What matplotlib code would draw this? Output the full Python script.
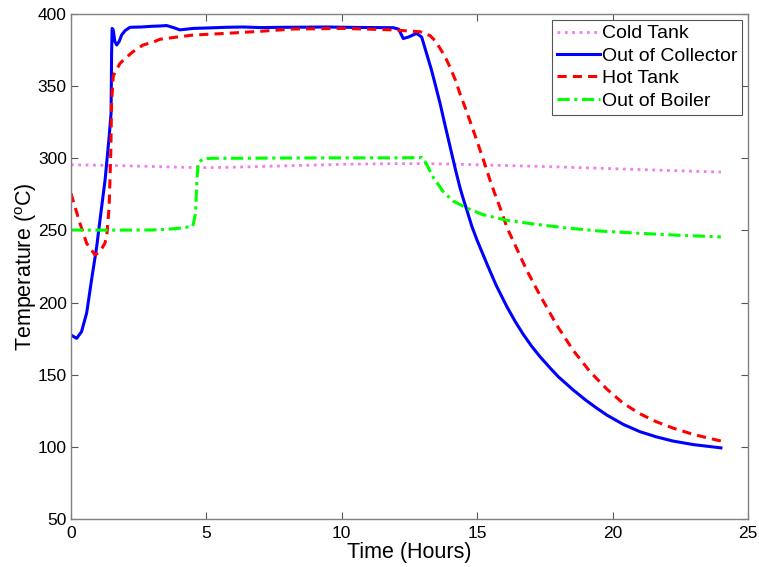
import matplotlib
matplotlib.use('Agg')
import matplotlib.pyplot as plt

plt.rcParams['font.family'] = ['Liberation Sans', 'DejaVu Sans']
plt.rcParams['mathtext.fontset'] = 'custom'
plt.rcParams['mathtext.rm'] = 'Liberation Sans'

# values (time in hours, temperature in C)
cold_t = [0, 1, 2, 3, 4, 5, 6, 7, 8, 9, 10, 11, 12, 13, 14, 15, 16, 17, 18, 19, 20, 21, 22, 23, 24]
cold_T = [295.5, 295.2, 294.8, 294.3, 293.8, 293.5, 293.8, 294.3, 294.8, 295.3, 295.8, 296.1, 296.3, 296.3,
          296.0, 295.5, 295.0, 294.5, 294.0, 293.4, 292.8, 292.2, 291.6, 291.0, 290.5]

coll_t = [0, 0.21, 0.39, 0.58, 0.76, 0.95, 1.07, 1.26, 1.41, 1.48, 1.49, 1.5, 1.52, 1.56, 1.62, 1.69, 1.78,
          1.87, 2.0, 2.18, 2.6, 3.0, 3.29, 3.53, 3.8, 4.02, 4.51, 5.0, 5.75, 6.36, 6.98, 8.0, 9.44, 10.5,
          11.9, 12.1, 12.27, 12.46, 12.76, 12.95, 13.13, 13.3, 13.44, 13.63, 13.8, 14.0, 14.2, 14.36,
          14.5, 14.62, 14.8, 15.0, 15.2, 15.4, 15.7, 16.1, 16.4, 16.7, 17.0, 17.32, 17.7, 18.0, 18.54,
          19.0, 19.4, 19.79, 20.4, 21.01, 21.6, 22.23, 23.0, 24.0]
coll_T = [177.5, 175.2, 179.8, 192.8, 215.7, 238.7, 257, 285, 315, 331, 350, 372, 390, 389, 381, 378.5,
          381, 385.4, 388.5, 390.8, 391, 391.5, 391.7, 392, 390.5, 389, 390, 390.3, 390.8, 391, 390.6, 390.8,
          391, 390.7, 390.5, 389.5, 383, 384, 386.6, 384, 372.7, 362, 352, 338, 324, 308, 292, 280,
          271, 264, 253, 243, 234, 225, 212, 197, 187, 178, 170, 162.5, 154.5, 148.5, 139.5,
          132.5, 127, 122, 115.5, 110.5, 107, 104, 101.5, 99.3]

hot_t = [0, 0.33, 0.58, 0.89, 1.07, 1.25, 1.32, 1.41, 1.47, 1.5, 1.56, 1.81, 2.05, 2.29, 2.66, 3.03, 3.29,
         3.9, 4.51, 5.13, 5.75, 6.98, 8.2, 10.05, 11.9, 12.63, 12.9, 13.26, 13.45, 13.6, 13.8, 14.0, 14.2,
         14.36, 14.55, 14.73, 14.9, 15.1, 15.3, 15.47, 15.65, 15.84, 16.1, 16.47, 16.84, 17.32, 17.95,
         18.54, 19.17, 19.79, 20.38, 21.0, 21.6, 22.23, 23.0, 24.0]
hot_T = [275.7, 255, 241, 233, 235.3, 241, 245.7, 266.5, 303.7, 338, 357, 365.8, 370, 373.9, 378.5, 380.5,
         382.5, 384, 385.4, 386, 386.6, 388, 389.6, 390, 389, 388, 387.7, 385, 381.5, 377, 371, 363, 354,
         345, 335.5, 326, 317, 306, 295, 285, 275.5, 266, 252, 237, 222, 205, 184,
         167, 152, 140, 130.4, 123, 117.5, 113, 108.5, 104]

boil_t = [0, 1, 2, 3, 3.3, 3.9, 4.3, 4.5, 4.6, 4.65, 4.7, 4.87, 5.2, 6, 8, 10, 12, 12.96, 13.1, 13.37,
          13.74, 14.1, 14.62, 15.2, 16.1, 17.06, 18.3, 19.5, 21.0, 22.5, 24.0]
boil_T = [250.3, 250.2, 250.2, 250.3, 250.5, 251.3, 252.3, 253, 262, 285, 297, 299.5, 300, 300, 300.2,
          300.3, 300.3, 300.5, 297, 287, 277, 270.5, 265.5, 261, 257, 254.5, 251.7, 249.6, 248, 246.6, 245.5]

fig = plt.figure(figsize=(7.59, 5.67), dpi=100)
ax = fig.add_axes([0.0935, 0.0847, 0.892, 0.8906])

ax.plot(cold_t, cold_T, ':', color='#f07cf0', lw=2, label='Cold Tank')
ax.plot(coll_t, coll_T, '-', color='#0000ff', lw=2.2, label='Out of Collector')
ax.plot(hot_t, hot_T, '--', color='#ff0000', lw=2.2, dashes=(3, 2), label='Hot Tank')
ax.plot(boil_t, boil_T, '-.', color='#00ff00', lw=2.2, dashes=(4, 1.5, 1, 1.5), label='Out of Boiler')

ax.set_xlim(0, 25)
ax.set_ylim(50, 400)
ax.set_xticks([0, 5, 10, 15, 20, 25])
ax.set_yticks([50, 100, 150, 200, 250, 300, 350, 400])
ax.tick_params(direction='in', length=5, width=0.8, top=True, right=True,
               labelsize=12.5, color='#555555')
ax.tick_params(axis='x', pad=5)
ax.tick_params(axis='y', pad=3)
for sp in ax.spines.values():
    sp.set_color('#808080')
    sp.set_linewidth(1.0)

ax.set_xlabel('Time (Hours)', fontsize=15.5, labelpad=1)
ax.set_ylabel(r'Temperature ($^{\mathrm{o}}$C)', fontsize=15.5, labelpad=-1)

leg = ax.legend(loc='upper right', fontsize=14, fancybox=False, framealpha=1,
                edgecolor='#555555', handlelength=2.2, handletextpad=0.1,
                borderpad=0.25, labelspacing=0.25, borderaxespad=0.3)
leg.get_frame().set_linewidth(0.8)

fig.savefig('out.png', dpi=100)
